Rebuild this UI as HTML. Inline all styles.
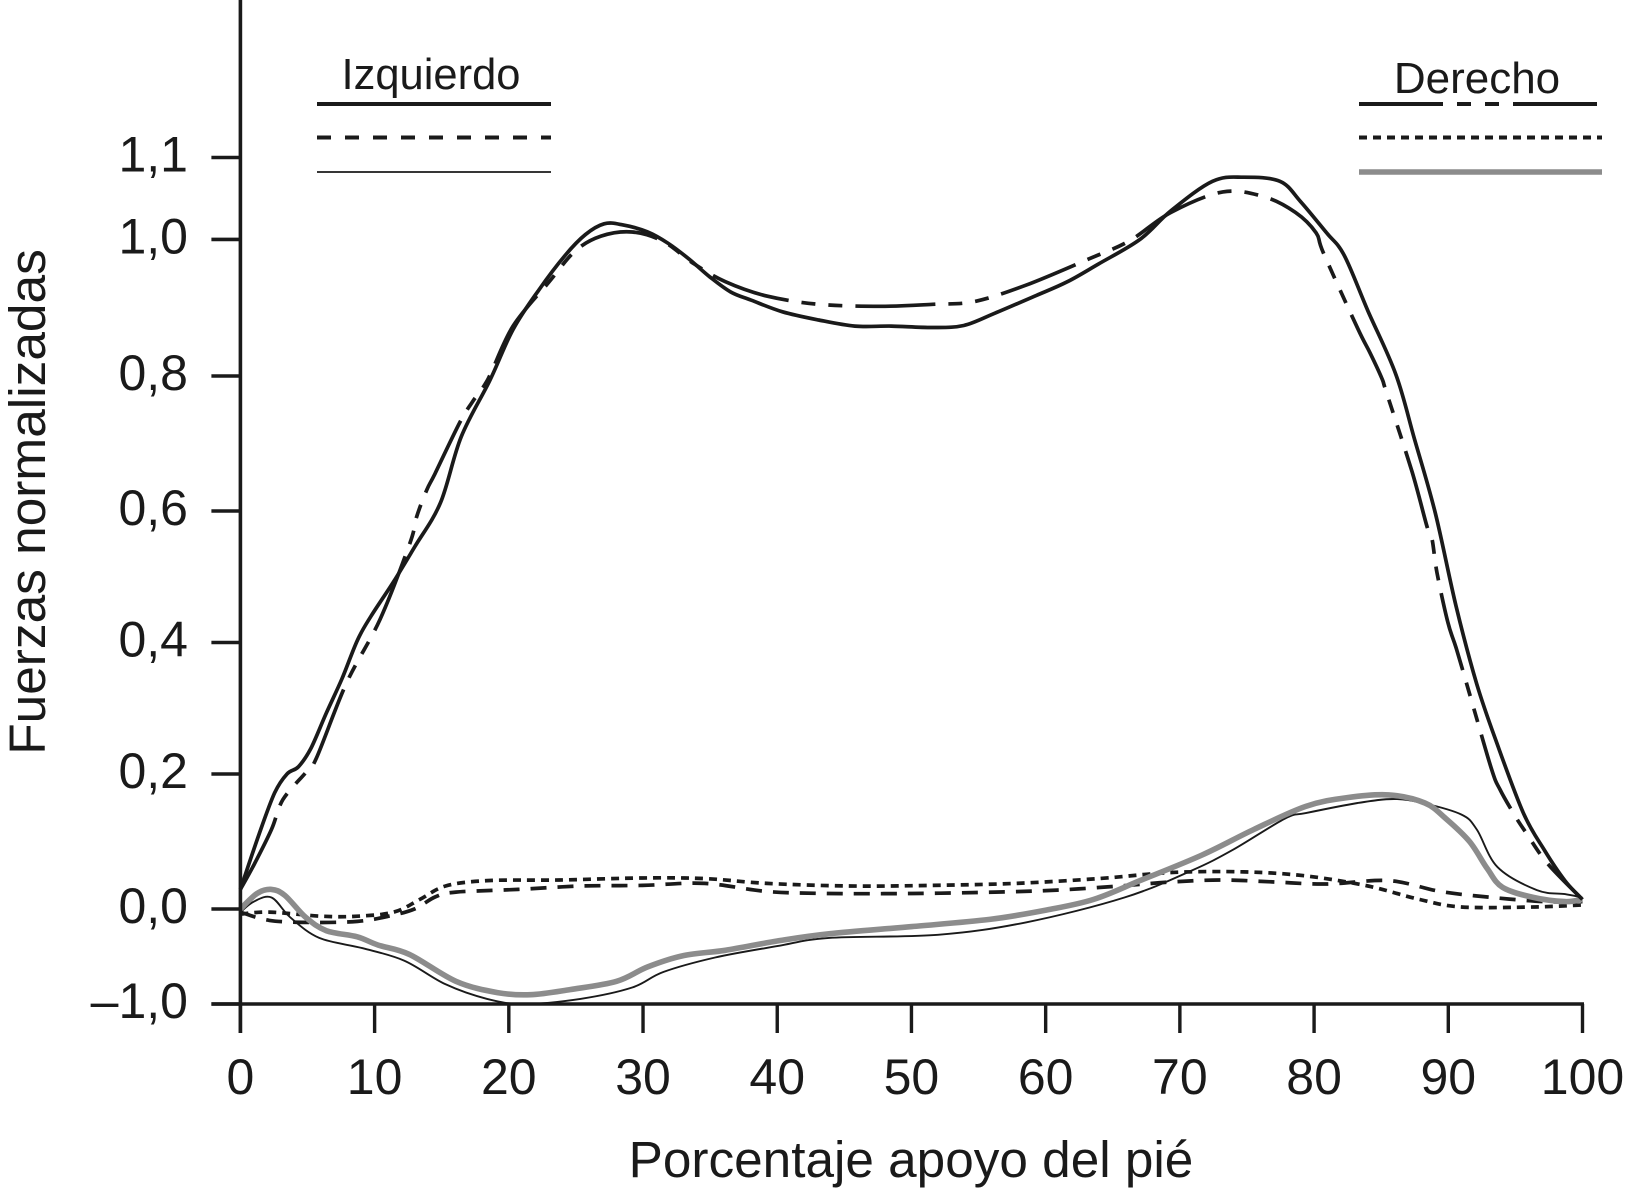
<!DOCTYPE html>
<html lang="es">
<head>
<meta charset="utf-8">
<title>Fuerzas normalizadas</title>
<style>
html,body{margin:0;padding:0;background:#fff;width:1625px;height:1194px;overflow:hidden}
svg{display:block}
text{font-family:"Liberation Sans",Arial,sans-serif;fill:#1a1a1a}
</style>
</head>
<body>
<svg id="chart" xmlns="http://www.w3.org/2000/svg" width="1625" height="1194" viewBox="0 0 1625 1194">
  <g id="series"></g>
  <g id="axes"></g>
  <text x="911" y="1177" font-size="51.3" text-anchor="middle">Porcentaje apoyo del pié</text>
  <text transform="translate(45 502) rotate(-90)" font-size="51.4" text-anchor="middle">Fuerzas normalizadas</text>
  <text x="431" y="89" font-size="43.5" text-anchor="middle">Izquierdo</text>
  <text x="1477" y="93" font-size="44" text-anchor="middle">Derecho</text>
  <line x1="317" x2="551" y1="104" y2="104" stroke="#1a1a1a" stroke-width="4"/>
  <line x1="317" x2="551" y1="137.5" y2="137.5" stroke="#1a1a1a" stroke-width="4" stroke-dasharray="14 14"/>
  <line x1="317" x2="551" y1="172" y2="172" stroke="#1a1a1a" stroke-width="1.8"/>
  <line x1="1359" x2="1597" y1="104" y2="104" stroke="#1a1a1a" stroke-width="4" stroke-dasharray="84 14 14 14 14 14 84"/>
  <line x1="1359" x2="1602" y1="137.5" y2="137.5" stroke="#1a1a1a" stroke-width="4" stroke-dasharray="8 6"/>
  <line x1="1359" x2="1602" y1="172" y2="172" stroke="#8c8c8c" stroke-width="5.6"/>
</svg>
<script>
const xTicks = [0,10,20,30,40,50,60,70,80,90,100];
const yTicks = [-1,0,0.2,0.4,0.6,0.8,1.0,1.1];
const yTickLabels = ['–1,0','0,0','0,2','0,4','0,6','0,8','1,0','1,1'];

const leftSolidX = [0,1.39,2.55,3.47,4.32,5.25,6.41,7.57,8.73,9.73,11.43,12.97,14.9,16.45,18.6,20.31,22.24,24.17,25.71,27.1,28.42,30.35,31.89,33.44,34.98,36.53,38.07,40.39,43.09,45.79,48.49,51.58,53.9,56.22,59.31,61.62,63.94,67.03,69.34,72.43,74.75,77.45,79,80.93,82.24,84.02,86.1,87.49,89.03,90.58,92.12,93.6,95.6,97.14,98.69,100];
const leftSolidY = [0.029,0.111,0.172,0.2,0.211,0.239,0.293,0.345,0.404,0.44,0.493,0.545,0.612,0.71,0.794,0.868,0.926,0.976,1.006,1.019,1.018,1.009,0.994,0.971,0.945,0.923,0.911,0.894,0.882,0.873,0.873,0.871,0.874,0.892,0.918,0.938,0.964,1.0,1.035,1.071,1.076,1.071,1.046,1.008,0.977,0.895,0.802,0.706,0.597,0.455,0.337,0.248,0.142,0.088,0.042,0.014];

const rightLongX = [0,1,2.32,3.17,4.94,5.68,7.92,10.4,12.63,13.13,13.88,14.49,16.37,17.3,18.46,20.31,23.01,24.94,26.87,29.19,31.51,33.82,36.14,39.23,43.09,47.72,51.58,54.67,58.53,63.17,66.25,69.34,73.2,76.29,78.61,80.15,80.7,83.24,84.17,85.06,85.4,87.3,88.42,88.8,89.16,89.96,90.58,91.5,93.2,93.85,95,95.83,97.37,99.85];
const rightLongY = [0.029,0.065,0.118,0.162,0.204,0.225,0.339,0.435,0.551,0.591,0.631,0.655,0.732,0.762,0.796,0.873,0.938,0.983,1.004,1.009,0.997,0.964,0.938,0.917,0.905,0.902,0.905,0.909,0.933,0.971,0.998,1.033,1.058,1.052,1.033,1.008,0.98,0.87,0.834,0.796,0.775,0.658,0.576,0.556,0.506,0.431,0.392,0.328,0.209,0.177,0.137,0.112,0.068,0.017];

const leftDashedX = [0,2.16,5.25,8.73,11.04,12.97,14.52,16.06,20.69,25.33,29.96,34.59,39.23,43.86,50.04,56.22,60.85,65.48,69.34,73.2,77.07,80.93,85.56,89.42,93.28,97.14,100];
const leftDashedY = [-0.033,-0.12,-0.141,-0.13,-0.076,0,0.018,0.025,0.029,0.034,0.035,0.038,0.026,0.023,0.023,0.025,0.028,0.034,0.04,0.043,0.04,0.037,0.042,0.026,0.017,0.011,0.011];

const rightDottedX = [0,2.16,6.02,8.73,11.43,13.36,15.29,18.38,23.78,29.96,34.59,39.23,45.41,51.58,57.76,63.94,69.34,74.75,79.38,84.02,87.88,90.97,96.37,100];
const rightDottedY = [-0.054,-0.033,-0.076,-0.076,-0.033,0.014,0.034,0.042,0.043,0.046,0.045,0.038,0.034,0.035,0.038,0.045,0.054,0.055,0.049,0.034,0.014,0.003,0.003,0.006];

const rightGreyX = [0,1.24,2.32,3.32,4.86,6.41,8.7,10.27,12.59,16.06,19.15,21.62,24.56,28.03,30.35,33.05,36.14,40,43.86,50.04,55.83,60.08,63.55,67.03,71.66,75.52,79.38,82.47,85.56,88.26,89.81,91.58,92.9,94.05,96.37,98.69,100];
const rightGreyY = [0,0.023,0.029,0.02,-0.087,-0.228,-0.293,-0.38,-0.478,-0.761,-0.88,-0.902,-0.848,-0.761,-0.609,-0.489,-0.435,-0.337,-0.261,-0.185,-0.109,-0.01,0.014,0.042,0.08,0.118,0.152,0.165,0.169,0.157,0.134,0.1,0.06,0.032,0.017,0.011,0.014];

const leftThinX = [0,1,2.32,3.71,5.87,9.11,12.2,15.29,18.38,21.08,25.33,29.19,31.51,35.37,40,43.86,51.97,58.53,65.87,70.89,73.98,77.84,79.38,83.24,85.95,88.1,90.97,92.12,93.67,96.6,98.69,100];
const leftThinY = [-0.033,0.011,0.017,-0.087,-0.304,-0.413,-0.543,-0.793,-0.946,-1,-0.946,-0.826,-0.663,-0.511,-0.391,-0.304,-0.272,-0.141,0.017,0.057,0.088,0.134,0.142,0.157,0.163,0.157,0.14,0.118,0.062,0.028,0.022,0.017];

const NS = 'http://www.w3.org/2000/svg';

function xScale(v){ return 240.4 + (v / 100) * (1582.5 - 240.4); }

// The printed axis is piecewise: each labelled interval has its own pixels-per-unit.
function yScale(v){
  const domain = [-1,0,0.2,0.4,0.6,0.8,1.0,1.1];
  const range = [1004,909,774,642.5,511,376,239.4,157.5];
  let i = 0;
  while (i < domain.length - 2 && v > domain[i + 1]) i++;
  const t = (v - domain[i]) / (domain[i + 1] - domain[i]);
  return range[i] + t * (range[i + 1] - range[i]);
}

function smoothPath(xs, ys){
  const p = xs.map((x, i) => [xScale(x), yScale(ys[i])]);
  let d = 'M' + p[0][0].toFixed(1) + ' ' + p[0][1].toFixed(1);
  for (let i = 0; i < p.length - 1; i++){
    const a = p[Math.max(i - 1, 0)], b = p[i], c = p[i + 1], e = p[Math.min(i + 2, p.length - 1)];
    const c1x = b[0] + (c[0] - a[0]) / 6, c1y = b[1] + (c[1] - a[1]) / 6;
    const c2x = c[0] - (e[0] - b[0]) / 6, c2y = c[1] - (e[1] - b[1]) / 6;
    d += 'C' + c1x.toFixed(1) + ' ' + c1y.toFixed(1) + ' ' + c2x.toFixed(1) + ' ' + c2y.toFixed(1) + ' ' + c[0].toFixed(1) + ' ' + c[1].toFixed(1);
  }
  return d;
}

function line(parent, x1, y1, x2, y2, width){
  const el = document.createElementNS(NS, 'line');
  el.setAttribute('x1', x1);
  el.setAttribute('y1', y1);
  el.setAttribute('x2', x2);
  el.setAttribute('y2', y2);
  el.setAttribute('stroke', '#1a1a1a');
  el.setAttribute('stroke-width', width);
  parent.appendChild(el);
  return el;
}

function label(parent, x, y, str, anchor){
  const el = document.createElementNS(NS, 'text');
  el.setAttribute('x', x);
  el.setAttribute('y', y);
  el.setAttribute('font-size', '50');
  el.setAttribute('text-anchor', anchor);
  el.textContent = str;
  parent.appendChild(el);
  return el;
}

function curve(xs, ys, color, width, dash){
  const el = document.createElementNS(NS, 'path');
  el.setAttribute('d', smoothPath(xs, ys));
  el.setAttribute('fill', 'none');
  el.setAttribute('stroke', color);
  el.setAttribute('stroke-width', width);
  el.setAttribute('stroke-linejoin', 'round');
  if (dash) el.setAttribute('stroke-dasharray', dash);
  document.getElementById('series').appendChild(el);
  return el;
}

const axes = document.getElementById('axes');

const yAxisLine = line(axes, xScale(0), 0, xScale(0), 1033, 3.6);



const xAxisLine = line(axes, xScale(0) - 29, yScale(-1), xScale(100) + 1.5, yScale(-1), 3.6);



xTicks.forEach(function(t){
  const tick = line(axes, xScale(t), yScale(-1), xScale(t), 1033, 3.4);
  
  
  const text = label(axes, xScale(t), 1094, String(t), 'middle');
  
  
});

yTicks.forEach(function(t, i){
  const tick = line(axes, xScale(0) - 29, yScale(t), xScale(0), yScale(t), 3.6);
  
  
  const text = label(axes, 188, yScale(t) + 14, yTickLabels[i], 'end');
  
  
});

const lowDashed = curve(leftDashedX, leftDashedY, '#1a1a1a', 3.7, '16 11');



const lowDotted = curve(rightDottedX, rightDottedY, '#1a1a1a', 3.7, '8 6');



const thin = curve(leftThinX, leftThinY, '#1a1a1a', 1.9);



const grey = curve(rightGreyX, rightGreyY, '#8c8c8c', 5.6);



const longDash = curve(rightLongX, rightLongY, '#1a1a1a', 3.7, '80 13 14 13 14 13');



const solid = curve(leftSolidX, leftSolidY, '#1a1a1a', 3.7);


</script>
</body>
</html>
